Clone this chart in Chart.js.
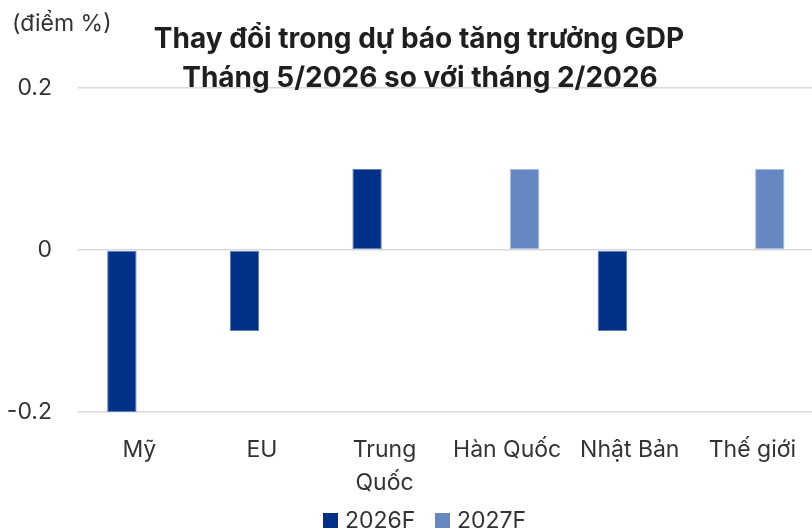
<!DOCTYPE html>
<html>
<head>
<meta charset="utf-8">
<script src="https://cdn.jsdelivr.net/npm/chart.js@4.4.1/dist/chart.umd.min.js"></script>
<style>
  html, body { margin: 0; padding: 0; background: #ffffff; overflow: hidden; width: 812px; height: 530px; }
  #wrap { position: relative; width: 817px; height: 530px; }
</style>
</head>
<body>
<div id="wrap"><canvas id="c" width="817" height="530"></canvas></div>
<script>
// ---- Data ----
const categories = ['Mỹ', 'EU', ['Trung', 'Quốc'], 'Hàn Quốc', 'Nhật Bản', 'Thế giới'];
const series2026F = [-0.2, -0.1, 0.1, 0, -0.1, 0];
const series2027F = [0, 0, 0, 0.1, 0, 0.1];
const seriesNames = ['2026F', '2027F'];
const yTicks = [-0.2, 0, 0.2];
const titleLines = ['Thay đổi trong dự báo tăng trưởng GDP', 'Tháng 5/2026 so với tháng 2/2026'];
const unitLabel = '(điểm %)';

const FONT = 'Inter, "Noto Sans", sans-serif';
const colors = ['#003087', '#6787c3'];
const borders = ['#5f7bb8', '#a9bbde'];

const overlayPlugin = {
  id: 'overlay',
  afterDraw(chart) {
    const ctx = chart.ctx;
    ctx.save();
    // unit label
    ctx.fillStyle = '#333333';
    ctx.font = '23px ' + FONT;
    ctx.textAlign = 'left';
    ctx.textBaseline = 'alphabetic';
    ctx.fillText(unitLabel, 12, 31);
    // title
    ctx.fillStyle = '#1f1f1f';
    ctx.font = 'bold 28px ' + FONT;
    ctx.textAlign = 'center';
    ctx.fillText(titleLines[0], 419, 48);
    ctx.fillText(titleLines[1], 420, 87);
    // legend
    ctx.font = '23px ' + FONT;
    ctx.textAlign = 'left';
    const items = chart.data.datasets;
    const xs = [323, 435];
    items.forEach((ds, i) => {
      ctx.fillStyle = ds.backgroundColor;
      ctx.fillRect(xs[i], 513, 15, 15);
      ctx.fillStyle = '#333333';
      ctx.fillText(ds.label, xs[i] + 22, 528);
    });
    ctx.restore();
  }
};

new Chart(document.getElementById('c'), {
  type: 'bar',
  data: {
    labels: categories,
    datasets: [
      { label: seriesNames[0], data: series2026F, backgroundColor: colors[0], borderColor: borders[0], borderWidth: 1, borderSkipped: false },
      { label: seriesNames[1], data: series2027F, backgroundColor: colors[1], borderColor: borders[1], borderWidth: 1, borderSkipped: false }
    ]
  },
  options: {
    responsive: false,
    animation: false,
    devicePixelRatio: 1,
    layout: { padding: { top: 88, right: 0, bottom: 0, left: 0 } },
    datasets: { bar: { categoryPercentage: 0.5687, barPercentage: 0.843 } },
    plugins: {
      legend: { display: false },
      title: { display: false },
      tooltip: { enabled: false }
    },
    scales: {
      x: {
        grid: { display: false, drawTicks: false },
        border: { display: false },
        ticks: {
          color: '#333333',
          font: { family: FONT, size: 23, lineHeight: 1.45 },
          padding: 21,
          maxRotation: 0,
          autoSkip: false
        },
        afterFit(scale) { scale.height = 118; }
      },
      y: {
        min: -0.2,
        max: 0.2,
        afterBuildTicks(scale) { scale.ticks = yTicks.map(v => ({ value: v })); },
        grid: { color: '#d9d9d9', lineWidth: 1.5, drawTicks: false },
        border: { display: false },
        ticks: {
          color: '#333333',
          font: { family: FONT, size: 23 },
          padding: 26,
          callback: (v) => (Math.abs(v) < 1e-9 ? '0' : String(Math.round(v * 10) / 10))
        },
        afterFit(scale) { scale.width = 78; }
      }
    }
  },
  plugins: [overlayPlugin]
});
</script>
</body>
</html>
